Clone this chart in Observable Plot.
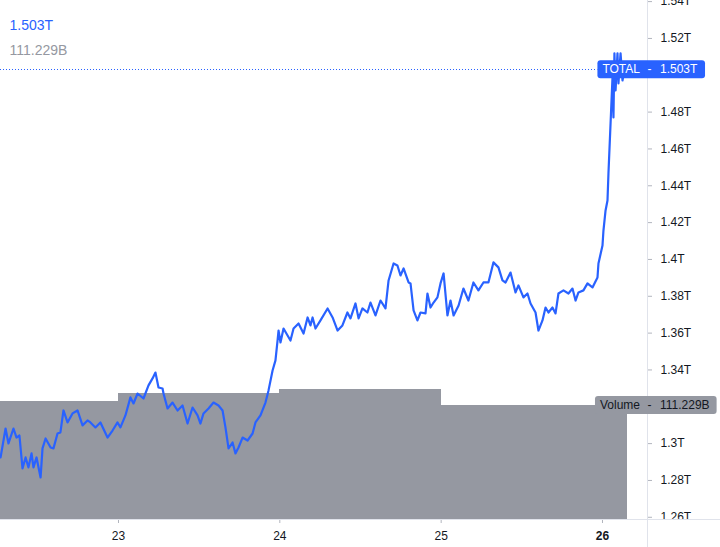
<!DOCTYPE html>
<html><head><meta charset="utf-8">
<script src="https://cdn.jsdelivr.net/npm/d3@7"></script>
<script src="https://cdn.jsdelivr.net/npm/@observablehq/plot@0.6"></script>
<style>
html,body{margin:0;padding:0;background:#fff;}
#chart{position:relative;width:720px;height:547px;overflow:hidden;}
#chart svg{position:absolute;left:0;top:0;}
#chart svg text{font-family:"Liberation Sans",Arial,sans-serif;}
g[aria-label^="x-axis"] text, g[aria-label^="y-axis"] text{font-size:12px;fill:#131722;}
g[aria-label^="x-axis"] line, g[aria-label^="x-axis"] path,
g[aria-label^="y-axis"] line, g[aria-label^="y-axis"] path{stroke:#b2b5be;}
</style></head><body><div id="chart"></div>
<script>
const seriesName = "TOTAL";
const volumeName = "Volume";
// time in fractional day-of-month, total market cap in trillions
const days = [22.269,22.300,22.318,22.349,22.368,22.386,22.405,22.424,22.442,22.461,22.473,22.492,22.517,22.529,22.548,22.579,22.597,22.622,22.640,22.659,22.684,22.715,22.746,22.777,22.808,22.826,22.857,22.888,22.932,22.963,22.994,23.012,23.043,23.074,23.093,23.118,23.155,23.186,23.211,23.229,23.248,23.273,23.279,23.304,23.335,23.366,23.397,23.428,23.459,23.490,23.508,23.527,23.558,23.589,23.620,23.645,23.663,23.682,23.707,23.725,23.744,23.769,23.800,23.831,23.849,23.880,23.911,23.930,23.955,23.973,23.986,23.992,24.004,24.023,24.048,24.066,24.085,24.116,24.147,24.172,24.190,24.203,24.221,24.252,24.296,24.327,24.358,24.388,24.419,24.438,24.469,24.488,24.512,24.543,24.562,24.593,24.624,24.655,24.674,24.705,24.729,24.748,24.767,24.798,24.810,24.829,24.853,24.872,24.903,24.915,24.934,24.953,24.977,24.996,25.015,25.039,25.058,25.077,25.108,25.138,25.169,25.200,25.231,25.262,25.293,25.324,25.355,25.380,25.399,25.430,25.461,25.479,25.510,25.535,25.554,25.585,25.603,25.628,25.647,25.665,25.690,25.709,25.727,25.758,25.789,25.814,25.833,25.851,25.882,25.907,25.938,25.969,25.975,26.000,26.006,26.019,26.031,26.037,26.050,26.062,26.068,26.074,26.081,26.093,26.099,26.112,26.124,26.136];
const totalT = [1.2925,1.3082,1.3001,1.3082,1.3033,1.3044,1.2865,1.2925,1.2871,1.2947,1.2871,1.2925,1.2816,1.2974,1.3028,1.2979,1.2974,1.3055,1.3061,1.3180,1.3115,1.3164,1.3180,1.3099,1.3126,1.3115,1.3088,1.3115,1.3033,1.3071,1.3115,1.3088,1.3153,1.3251,1.3218,1.3272,1.3245,1.3316,1.3354,1.3386,1.3305,1.3299,1.3272,1.3191,1.3223,1.3180,1.3207,1.3109,1.3196,1.3153,1.3109,1.3164,1.3191,1.3223,1.3207,1.3180,1.3088,1.2974,1.3006,1.2947,1.2979,1.3033,1.3017,1.3055,1.3115,1.3153,1.3223,1.3289,1.3397,1.3452,1.3560,1.3614,1.3549,1.3625,1.3587,1.3560,1.3625,1.3652,1.3598,1.3685,1.3642,1.3685,1.3625,1.3669,1.3734,1.3685,1.3614,1.3642,1.3712,1.3680,1.3761,1.3680,1.3734,1.3712,1.3766,1.3696,1.3777,1.3734,1.3886,1.3978,1.3967,1.3913,1.3951,1.3875,1.3870,1.3723,1.3669,1.3712,1.3707,1.3815,1.3739,1.3766,1.3794,1.3870,1.3924,1.3696,1.3777,1.3696,1.3750,1.3842,1.3777,1.3875,1.3832,1.3875,1.3875,1.3984,1.3957,1.3886,1.3875,1.3929,1.3821,1.3859,1.3794,1.3815,1.3761,1.3712,1.3614,1.3669,1.3739,1.3712,1.3739,1.3707,1.3815,1.3832,1.3815,1.3842,1.3777,1.3821,1.3832,1.3870,1.3848,1.3902,1.3978,1.4076,1.4157,1.4266,1.4320,1.4467,1.4738,1.4988,1.4771,1.5119,1.4918,1.5119,1.4956,1.5119,1.4972,1.5030];
// volume bars (billions)
const volStart = [22, 23, 24, 25];
const volEnd = [23, 24, 25, 26.155];
const volumeB = [115.4, 123.2, 126.5, 111.229];
// axes
const xTicks = [23, 24, 25, 26];
const yTicks = [1.26, 1.28, 1.30, 1.32, 1.34, 1.36, 1.38, 1.40, 1.42, 1.44, 1.46, 1.48, 1.50, 1.52, 1.54];
const xDomain = [22.2686, 26.279];
const yDomain = [1.2588, 1.5406];
const volDomain = [0, 506.4];

const W = 720, H = 547, MR = 73, MB = 28;
const BLUE = "#2962ff", GRAY = "#9598a1", INK = "#131722", FRAME = "#e0e3eb";
const FONT = '"Liberation Sans", Arial, sans-serif';

const n = Math.min(days.length, totalT.length);
const series = d3.range(n).map(i => ({d: days[i], v: totalT[i]}));
const vols = volumeB.map((v, i) => ({x1: volStart[i], x2: volEnd[i], v}));
const lastTotal = totalT[n - 1];
const lastVol = volumeB[volumeB.length - 1];
const fmtT = v => d3.format(".3f")(v) + "T";
const fmtB = v => d3.format(".3f")(v) + "B";

const common = {width: W, height: H, marginTop: 0, marginLeft: 0, marginRight: MR, marginBottom: MB};

const volPlot = Plot.plot({
  ...common,
  style: {background: "transparent"},
  x: {domain: xDomain, axis: null},
  y: {domain: volDomain, axis: null},
  marks: [
    Plot.rectY(vols, {x1: "x1", x2: "x2", y: "v", fill: GRAY, clip: true, shapeRendering: "crispEdges"})
  ]
});

const pricePlot = Plot.plot({
  ...common,
  style: {background: "transparent", fontSize: "12px", fontFamily: FONT, color: INK},
  x: {domain: xDomain, ticks: xTicks, tickFormat: d => String(d), tickSize: 4, tickPadding: 8, label: null},
  y: {domain: yDomain, axis: "right", ticks: yTicks, tickFormat: d => `${+d.toFixed(2)}T`, tickSize: 4, tickPadding: 9, label: null},
  marks: [
    Plot.line(series, {x: "d", y: "v", stroke: BLUE, strokeWidth: 2.2, clip: true}),
    Plot.text([lastTotal], {frameAnchor: "top-left", text: d => fmtT(d), dx: 9, dy: 20, fill: BLUE, fontSize: 14, textAnchor: "start"}),
    Plot.text([lastVol], {frameAnchor: "top-left", text: d => fmtB(d), dx: 9, dy: 45, fill: GRAY, fontSize: 14, textAnchor: "start"})
  ]
});

const chart = document.getElementById("chart");
chart.appendChild(volPlot);
chart.appendChild(pricePlot);

const svg = d3.select(pricePlot);
// bold current-day tick
svg.selectAll('g[aria-label^="x-axis"] text').filter(function() { return this.textContent === "26"; }).style("font-weight", "bold");

const yScale = pricePlot.scale("y");
const vScale = volPlot.scale("y");
const frameRight = W - MR;

// clip area below time axis on the price scale
svg.append("rect").attr("x", frameRight + 1).attr("y", H - MB + 0.5).attr("width", MR).attr("height", MB).attr("fill", "#fff");
// frame lines
svg.append("line").attr("x1", frameRight + 0.5).attr("x2", frameRight + 0.5).attr("y1", 0).attr("y2", H).attr("stroke", FRAME);
svg.append("line").attr("x1", 0).attr("x2", W).attr("y1", H - MB + 0.5).attr("y2", H - MB + 0.5).attr("stroke", FRAME);

const labelBoxes = [];
function priceLabel(y, name, value, bg, fg, dotted) {
  const g = svg.append("g").style("font-family", FONT).style("font-size", "12px");
  const dot = dotted ? g.append("line") : null;
  const rect = g.append("rect");
  const t1 = g.append("text").attr("x", frameRight - 7).attr("y", y).attr("dy", "0.35em").attr("text-anchor", "end").attr("fill", fg).text(name);
  g.append("text").attr("x", frameRight + 2.5).attr("y", y).attr("dy", "0.35em").attr("text-anchor", "middle").attr("fill", fg).text("-");
  const t3 = g.append("text").attr("x", frameRight + 13).attr("y", y).attr("dy", "0.35em").attr("text-anchor", "start").attr("fill", fg).text(value);
  const b1 = t1.node().getBBox(), b3 = t3.node().getBBox();
  const left = b1.x - 5, right = b3.x + b3.width + 7;
  rect.attr("x", left).attr("y", y - 9).attr("width", right - left).attr("height", 18).attr("rx", 3).attr("fill", bg);
  labelBoxes.push({top: y - 9, bottom: y + 9});
  if (dot) dot.attr("x1", 0).attr("x2", left).attr("y1", Math.round(y) + 0.5).attr("y2", Math.round(y) + 0.5)
    .attr("stroke", BLUE).attr("stroke-dasharray", "1,2");
}
priceLabel(vScale.apply(lastVol), volumeName, fmtB(lastVol), GRAY, INK, false);
priceLabel(yScale.apply(lastTotal), seriesName, fmtT(lastTotal), BLUE, "#ffffff", true);

// hide price-scale tick labels that sit under the last-value labels (as the reference does)
const svgRect = pricePlot.getBoundingClientRect();
svg.selectAll('g[aria-label^="y-axis"] text').each(function() {
  const r = this.getBoundingClientRect();
  const top = r.top - svgRect.top, bottom = r.bottom - svgRect.top;
  if (labelBoxes.some(b => bottom > b.top + 1 && top < b.bottom - 1)) d3.select(this).remove();
});
</script></body></html>
